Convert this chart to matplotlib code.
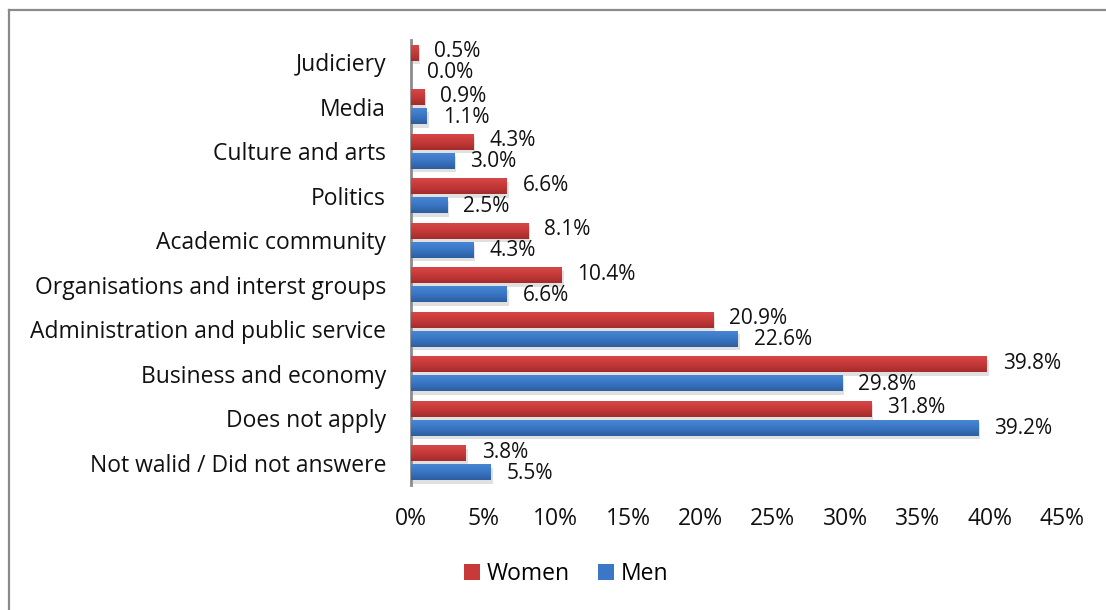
import matplotlib
matplotlib.use("Agg")
import matplotlib.pyplot as plt
import numpy as np
from matplotlib.patches import Patch
from matplotlib.lines import Line2D
from matplotlib import patheffects as pe
from matplotlib.colors import LinearSegmentedColormap

categories = [
    "Judiciery",
    "Media",
    "Culture and arts",
    "Politics",
    "Academic community",
    "Organisations and interst groups",
    "Administration and public service",
    "Business and economy",
    "Does not apply",
    "Not walid / Did not answere",
]
women = [0.5, 0.9, 4.3, 6.6, 8.1, 10.4, 20.9, 39.8, 31.8, 3.8]
men = [0.0, 1.1, 3.0, 2.5, 4.3, 6.6, 22.6, 29.8, 39.2, 5.5]
x_ticks = [0, 5, 10, 15, 20, 25, 30, 35, 40, 45]

plt.rcParams["font.family"] = ["Open Sans", "DejaVu Sans"]

W, H = 1106, 610
fig = plt.figure(figsize=(W / 100, H / 100), dpi=100)
ax = fig.add_axes([411 / W, 1 - 485 / H, (1062 - 411) / W, (485 - 40) / H])

y = np.arange(len(categories))
bh = 0.36
off = 0.21

shadow = [pe.SimplePatchShadow(offset=(1.5, -2.5), shadow_rgbFace="#000000", alpha=0.12)]
red_bars = ax.barh(y - off, women, height=bh, color="#C83A3A", zorder=2,
                   path_effects=shadow)
blue_bars = ax.barh(y + off, men, height=bh, color="#3A77C6", zorder=2,
                    path_effects=shadow)

red_cmap = LinearSegmentedColormap.from_list("r", ["#D84848", "#C73A3A", "#A32C2C"])
blue_cmap = LinearSegmentedColormap.from_list("b", ["#4A88D6", "#3A77C6", "#2D5E9E"])
grad = np.linspace(0, 1, 64).reshape(-1, 1)
for bars, cmap in ((red_bars, red_cmap), (blue_bars, blue_cmap)):
    for p in bars:
        x0, y0 = p.get_x(), p.get_y()
        w, h = p.get_width(), p.get_height()
        if w <= 0:
            continue
        im = ax.imshow(grad, cmap=cmap, aspect="auto", origin="lower",
                       extent=(x0, x0 + w, y0, y0 + h), zorder=3,
                       interpolation="bicubic")
        im.set_clip_path(p)

# value labels at the bar ends (women slightly raised, men slightly lowered)
for bars, vals, dy in ((red_bars, women, 1), (blue_bars, men, -1)):
    for p, v in zip(bars, vals):
        ax.annotate(f"{v:.1f}%", (v, p.get_y() + p.get_height() / 2),
                    xytext=(16, dy), textcoords="offset pixels",
                    ha="left", va="center", fontsize=15, color="#111111",
                    zorder=5)

ax.set_xlim(0, 45)
ax.set_ylim(len(categories) - 0.5, -0.5)
ax.set_yticks(y)
ax.set_yticklabels(categories, fontsize=16.5, color="#111111")
ax.set_xticks(x_ticks)
ax.set_xticklabels([f"{t}%" for t in x_ticks], fontsize=16.5, color="#111111")
ax.tick_params(axis="y", length=0, pad=18)
ax.tick_params(axis="x", length=0, pad=16)

for s in ("top", "right", "bottom"):
    ax.spines[s].set_visible(False)
ax.spines["left"].set_color("#8C8C8C")
ax.spines["left"].set_linewidth(2)
ax.set_facecolor("none")

handles = [Patch(facecolor="#C83A3A", edgecolor="none", label="Women"),
           Patch(facecolor="#3A77C6", edgecolor="none", label="Men")]
fig.legend(handles=handles, loc="center", bbox_to_anchor=(566 / W, 1 - 574 / H),
           ncol=2, frameon=False, fontsize=16.5, handlelength=0.7,
           handleheight=0.7, handletextpad=0.3, columnspacing=1.2)

# outer chart frame
fx = 8.5 / W
fy = 1 - 9.5 / H
fig.add_artist(Line2D([fx, fx], [0, fy], transform=fig.transFigure,
                      color="#8A8A8A", lw=1.6))
fig.add_artist(Line2D([fx, 1], [fy, fy], transform=fig.transFigure,
                      color="#8A8A8A", lw=1.6))

fig.savefig("out.png", dpi=100)
